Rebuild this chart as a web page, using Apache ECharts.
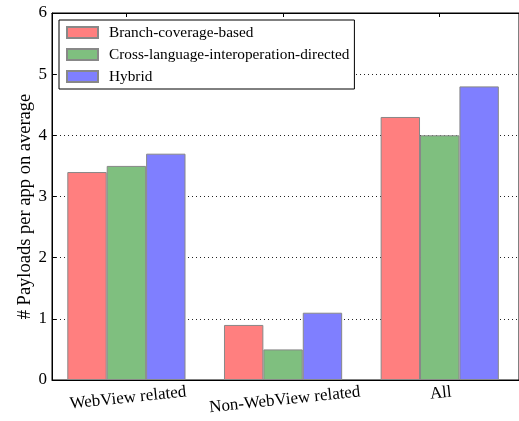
<!DOCTYPE html>
<html>
<head>
<meta charset="utf-8">
<script src="https://cdn.jsdelivr.net/npm/echarts@6/dist/echarts.min.js"></script>
<style>html,body{margin:0;padding:0;background:#fff}#c{width:519px;height:421px}</style>
</head>
<body>
<div id="c"></div>
<script>
const categories = ['WebView related', 'Non-WebView related', 'All'];
const seriesNames = ['Branch-coverage-based', 'Cross-language-interoperation-directed', 'Hybrid'];
const branchValues = [3.4, 0.9, 4.3];
const crossValues = [3.5, 0.5, 4.0];
const hybridValues = [3.7, 1.1, 4.8];
const yTicks = [0, 1, 2, 3, 4, 5, 6];
const colors = ['#ff7f7f', '#7fbf7f', '#7f7fff'];

const FONT = 'Liberation Serif';
const XFS = 17, ROT = 6;
const chart = echarts.init(document.getElementById('c'), null, {renderer: 'canvas'});
const catIdx = categories.map((c, i) => i);

// per-label top padding so the rotated labels share a common top edge
const rich = {};
categories.forEach((c, i) => {
  const w = echarts.format.getTextRect ? echarts.format.getTextRect(c, XFS + 'px ' + FONT).width : c.length * XFS * 0.45;
  rich['l' + i] = {fontFamily: FONT, fontSize: XFS, color: '#000',
    padding: [Math.max(0, w / 2 * Math.sin(ROT * Math.PI / 180)), 0, 0, 0]};
});

function mk(name, vals, color) {
  return {
    name: name, type: 'bar', barWidth: 39.4, barGap: '0%',
    data: vals.map((v, i) => [i, v]),
    itemStyle: {color: color, borderColor: '#888', borderWidth: 1},
    emphasis: {disabled: true}
  };
}
chart.setOption({
  animation: false,
  textStyle: {fontFamily: FONT},
  grid: {left: 52, top: 13, width: 470, height: 367, show: true,
    borderColor: '#000', borderWidth: 1, backgroundColor: 'transparent'},
  legend: {
    left: 59, top: 20, orient: 'vertical', icon: 'rect',
    itemWidth: 31, itemHeight: 11, itemGap: 7,
    padding: [5, 5, 5, 7],
    borderColor: '#000', borderWidth: 1, backgroundColor: '#fff',
    textStyle: {fontFamily: FONT, fontSize: 15.3, color: '#000', padding: [0, 0, 0, 6]},
    data: seriesNames
  },
  xAxis: [{
    type: 'value', min: -0.475, max: 2.506, position: 'bottom',
    axisLine: {show: true, onZero: false, lineStyle: {color: '#000', width: 1}},
    axisTick: {show: true, inside: true, length: 4, customValues: catIdx, lineStyle: {color: '#000'}},
    axisLabel: {customValues: catIdx,
      formatter: v => { const i = Math.round(v); return '{l' + i + '|' + categories[i] + '}'; },
      rich: rich, rotate: ROT, align: 'center', verticalAlign: 'top', margin: 3.5,
      fontFamily: FONT, fontSize: XFS, color: '#000'},
    splitLine: {show: false}
  }, {
    type: 'value', min: -0.475, max: 2.506, position: 'top',
    axisLine: {show: true, onZero: false, lineStyle: {color: '#000', width: 1}},
    axisTick: {show: true, inside: true, length: 4, customValues: catIdx, lineStyle: {color: '#000'}},
    axisLabel: {show: false},
    splitLine: {show: false}
  }],
  yAxis: [{
    type: 'value', min: 0, max: 6, interval: 1,
    name: '# Payloads per app on average', nameLocation: 'middle', nameGap: 17,
    nameMoveOverlap: false,
    nameTextStyle: {fontFamily: FONT, fontSize: 18.5, color: '#000', padding: [0, 20, 0, 0]},
    axisLine: {show: true, onZero: false, lineStyle: {color: '#000', width: 1}},
    axisTick: {show: true, inside: true, length: 4, lineStyle: {color: '#000'}},
    axisLabel: {fontFamily: FONT, fontSize: 17, color: '#000', margin: 5,
      formatter: v => yTicks.includes(v) ? String(v) : ''},
    splitLine: {show: true, lineStyle: {color: '#222', type: [1, 3], width: 1}}
  }],
  series: [
    mk(seriesNames[0], branchValues, colors[0]),
    mk(seriesNames[1], crossValues, colors[1]),
    mk(seriesNames[2], hybridValues, colors[2])
  ]
});
</script>
</body>
</html>
